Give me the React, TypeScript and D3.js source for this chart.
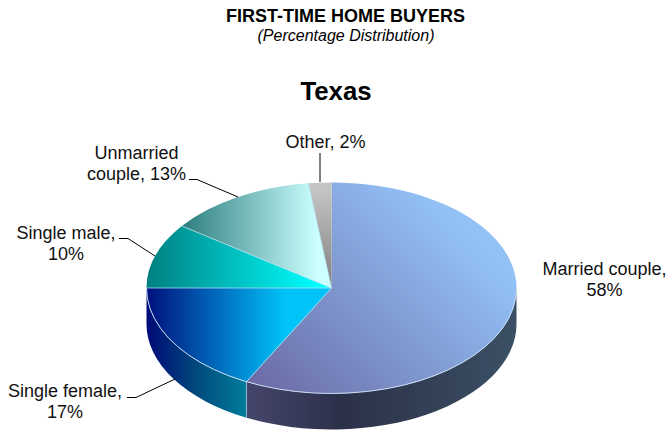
import React from "react";
import * as d3 from "d3";

const categories = ["Married couple", "Single female", "Single male", "Unmarried couple", "Other"];
const values = [57.6, 17.4, 10, 13, 2];
const labelLines = [
  ["Married couple,", "58%"],
  ["Single female,", "17%"],
  ["Single male,", "10%"],
  ["Unmarried", "couple, 13%"],
  ["Other, 2%"],
];
const gradientStops = [
  ["#6a68a3", "#92c1f6"],
  ["#00107f", "#00c3f7"],
  ["#007f80", "#00ffff"],
  ["#2d7d7e", "#ccffff"],
  ["#c4c4c4", "#7f7f7f"],
];
const wallStops = [
  ["#46466c", "#2b3049", "#3b5064"],
  ["#000a78", "#004a7c", "#007c9c"],
];

const W = 668, H = 432;
const cx = 331.5, cy = 288, rx = 185, ry = 105.5, depth = 36;
const font = "'Liberation Sans', Arial, sans-serif";

const arcs = d3.pie<number>().sort(null).value((d) => d).startAngle(0).endAngle(2 * Math.PI)(values);
const px = (a: number) => cx + rx * Math.sin(a);
const py = (a: number) => cy - ry * Math.cos(a);

const topPath = (a0: number, a1: number) => {
  const p = d3.path();
  p.moveTo(cx, cy);
  p.lineTo(px(a0), py(a0));
  const large = a1 - a0 > Math.PI ? 1 : 0;
  return `${p.toString()}A${rx},${ry} 0 ${large} 1 ${px(a1)},${py(a1)}Z`;
};
const wallPath = (a0: number, a1: number) => {
  const large = a1 - a0 > Math.PI ? 1 : 0;
  return `M${px(a0)},${py(a0)}A${rx},${ry} 0 ${large} 1 ${px(a1)},${py(a1)}L${px(a1)},${py(a1) + depth}A${rx},${ry} 0 ${large} 0 ${px(a0)},${py(a0) + depth}Z`;
};
const rimPath = (a0: number, a1: number) => {
  const large = a1 - a0 > Math.PI ? 1 : 0;
  return `M${px(a0)},${py(a0)}A${rx},${ry} 0 ${large} 1 ${px(a1)},${py(a1)}`;
};

const labelAt = [
  { x: 604.5, y: 275 },
  { x: 65, y: 397 },
  { x: 66, y: 239 },
  { x: 136.5, y: 159 },
  { x: 325.5, y: 148 },
];
const leaders = [
  null,
  "M127,397.5H136L175,379",
  "M119,238.5H128L155,256",
  "M189,179.5H197L238,197",
  "M320,153V182",
];

export default function App() {
  const visibleFrom = Math.PI / 2;
  const visibleTo = 1.5 * Math.PI;
  return (
    <svg width={W} height={H} style={{ position: "absolute", left: 0, top: 0, background: "#fff" }} fontFamily={font}>
      <defs>
        <linearGradient id="g0" gradientUnits="userSpaceOnUse" x1={250} y1={395} x2={440} y2={210}>
          <stop offset="0" stopColor={gradientStops[0][0]} />
          <stop offset="1" stopColor={gradientStops[0][1]} />
        </linearGradient>
        <linearGradient id="g1" gradientUnits="userSpaceOnUse" x1={147} y1={0} x2={285} y2={0}>
          <stop offset="0" stopColor={gradientStops[1][0]} />
          <stop offset="1" stopColor={gradientStops[1][1]} />
        </linearGradient>
        <linearGradient id="g2" gradientUnits="userSpaceOnUse" x1={147} y1={0} x2={320} y2={0}>
          <stop offset="0" stopColor={gradientStops[2][0]} />
          <stop offset="1" stopColor={gradientStops[2][1]} />
        </linearGradient>
        <linearGradient id="g3" gradientUnits="userSpaceOnUse" x1={182} y1={0} x2={318} y2={0}>
          <stop offset="0" stopColor={gradientStops[3][0]} />
          <stop offset="1" stopColor={gradientStops[3][1]} />
        </linearGradient>
        <linearGradient id="g4" gradientUnits="userSpaceOnUse" x1={0} y1={190} x2={0} y2={288}>
          <stop offset="0" stopColor={gradientStops[4][0]} />
          <stop offset="1" stopColor={gradientStops[4][1]} />
        </linearGradient>
        <linearGradient id="w0" gradientUnits="userSpaceOnUse" x1={246} y1={0} x2={516} y2={0}>
          <stop offset="0" stopColor={wallStops[0][0]} />
          <stop offset="0.35" stopColor={wallStops[0][1]} />
          <stop offset="1" stopColor={wallStops[0][2]} />
        </linearGradient>
        <linearGradient id="w1" gradientUnits="userSpaceOnUse" x1={147} y1={0} x2={246} y2={0}>
          <stop offset="0" stopColor={wallStops[1][0]} />
          <stop offset="0.5" stopColor={wallStops[1][1]} />
          <stop offset="1" stopColor={wallStops[1][2]} />
        </linearGradient>
      </defs>

      <text x={345.5} y={22} textAnchor="middle" fontWeight="bold" fontSize={18} fill="#000">FIRST-TIME HOME BUYERS</text>
      <text x={346} y={41} textAnchor="middle" fontStyle="italic" fontSize={16} fill="#000">(Percentage Distribution)</text>
      <text x={336} y={100} textAnchor="middle" fontWeight="bold" fontSize={25.8} fill="#000">Texas</text>

      {arcs.map((a, i) => {
        const s = Math.max(a.startAngle, visibleFrom);
        const e = Math.min(a.endAngle, visibleTo);
        return e > s ? (
          <path key={`w${i}`} d={wallPath(s, e)} fill={`url(#w${i})`} stroke="none" />
        ) : null;
      })}
      {arcs.map((a, i) => {
        const s = Math.max(a.startAngle, visibleFrom);
        return a.startAngle >= visibleFrom && a.startAngle < visibleTo ? (
          <line key={`e${i}`} x1={px(s)} y1={py(s)} x2={px(s)} y2={py(s) + depth} stroke="#9fc4e0" strokeWidth={0.8} />
        ) : null;
      })}
      {arcs.map((a, i) => (
        <path key={`t${i}`} d={topPath(a.startAngle, a.endAngle)} fill={`url(#g${i})`} stroke="none" />
      ))}
      {arcs.map((a, i) => (
        <path key={`s${i}`} d={`M${cx},${cy}L${px(a.startAngle)},${py(a.startAngle)}`} stroke="#b5e3f5" strokeWidth={0.9} opacity={i === 0 ? 0 : 0.85} />
      ))}
      <path d={rimPath(visibleFrom, visibleTo)} fill="none" stroke="#c9dcf2" strokeWidth={1} />

      {leaders.map((d, i) => d && <path key={`l${i}`} d={d} fill="none" stroke="#000" strokeWidth={1} />)}

      {labelLines.map((lines, i) => (
        <text key={categories[i]} x={labelAt[i].x} y={labelAt[i].y} textAnchor="middle" fontSize={18} fill="#111">
          {lines.map((t, j) => (
            <tspan key={j} x={labelAt[i].x} dy={j === 0 ? 0 : 21}>{t}</tspan>
          ))}
        </text>
      ))}
    </svg>
  );
}
